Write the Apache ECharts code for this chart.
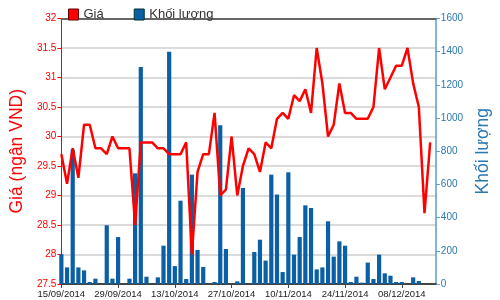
<!DOCTYPE html>
<html>
<head>
<meta charset="utf-8">
<script src="https://cdn.jsdelivr.net/npm/echarts@6/dist/echarts.min.js"></script>
<style>
html,body{margin:0;padding:0;background:#fff;}
#c{width:500px;height:300px;}
</style>
</head>
<body>
<div id="c"></div>
<script>
var dates = [
 '15/09/2014','16/09/2014','17/09/2014','18/09/2014','19/09/2014',
 '22/09/2014','23/09/2014','24/09/2014','25/09/2014','26/09/2014',
 '29/09/2014','30/09/2014','01/10/2014','02/10/2014','03/10/2014',
 '06/10/2014','07/10/2014','08/10/2014','09/10/2014','10/10/2014',
 '13/10/2014','14/10/2014','15/10/2014','16/10/2014','17/10/2014',
 '20/10/2014','21/10/2014','22/10/2014','23/10/2014','24/10/2014',
 '27/10/2014','28/10/2014','29/10/2014','30/10/2014','31/10/2014',
 '03/11/2014','04/11/2014','05/11/2014','06/11/2014','07/11/2014',
 '10/11/2014','11/11/2014','12/11/2014','13/11/2014','14/11/2014',
 '17/11/2014','18/11/2014','19/11/2014','20/11/2014','21/11/2014',
 '24/11/2014','25/11/2014','26/11/2014','27/11/2014','28/11/2014',
 '01/12/2014','02/12/2014','03/12/2014','04/12/2014','05/12/2014',
 '08/12/2014','09/12/2014','10/12/2014','11/12/2014','12/12/2014',
 '15/12/2014','16/12/2014'
];
var price = [
 29.7,29.2,29.8,29.3,30.2, 30.2,29.8,29.8,29.7,30.0,
 29.8,29.8,29.8,28.5,29.9, 29.9,29.9,29.8,29.8,29.7,
 29.7,29.7,29.9,28.0,29.4, 29.7,29.7,30.4,29.0,29.1,
 30.0,29.0,29.5,29.8,29.7, 29.4,29.9,29.8,30.3,30.4,
 30.3,30.7,30.6,30.8,30.4, 31.5,30.9,30.0,30.2,30.9,
 30.4,30.4,30.3,30.3,30.3, 30.5,31.5,30.8,31.0,31.2,
 31.2,31.5,30.9,30.5,28.7, 29.9,null
];
var volume = [
 180,100,810,100,82, 12,32,0,354,32,
 283,0,32,667,1308, 44,0,40,231,1399,
 108,502,30,659,205, 103,0,12,957,211,
 0,16,579,0,193, 267,141,659,539,72,
 673,177,283,474,458, 88,100,378,165,257,
 231,12,44,8,129, 30,177,64,50,12,
 12,0,40,18,0, 0,0
];
var priceTicks = {min:27.5, max:32, step:0.5};
var volTicks = {min:0, max:1600, step:200};

var sans = '"Liberation Sans",Arial,sans-serif';
var chart = echarts.init(document.getElementById('c'));
chart.setOption({
  animation:false,
  backgroundColor:'#fff',
  legend:{
    left:63, top:3, itemWidth:10, itemHeight:11, itemGap:30,
    textStyle:{fontFamily:sans, fontSize:13, color:'#333'},
    data:[
      {name:'Giá', icon:'rect', itemStyle:{color:'#ff0000', borderColor:'#600', borderWidth:1}},
      {name:'Khối lượng', icon:'rect', itemStyle:{color:'#0b5fa5', borderColor:'#033', borderWidth:1}}
    ]
  },
  grid:{left:58, right:61, top:18.5, bottom:16, containLabel:false},
  xAxis:[{
    type:'category', data:dates, boundaryGap:false,
    axisLine:{lineStyle:{color:'#444', width:2}},
    axisTick:{interval:9, length:4, lineStyle:{color:'#444'}},
    axisLabel:{interval:9, margin:5, fontFamily:sans, fontSize:9.5, color:'#222'},
    splitLine:{show:false}
  },{
    type:'category', data:dates, boundaryGap:false, position:'top',
    axisLine:{lineStyle:{color:'#666', width:2}},
    axisTick:{show:false}, axisLabel:{show:false}
  }],
  yAxis:[{
    type:'value', position:'left', min:priceTicks.min, max:priceTicks.max, interval:priceTicks.step,
    name:'Giá (ngân VND)', nameLocation:'middle', nameRotate:90, nameGap:27,
    nameTextStyle:{color:'#ff0000', fontSize:17.5, fontFamily:sans},
    axisLine:{show:true, lineStyle:{color:'#ff0000', width:1}},
    axisTick:{show:true, length:4, lineStyle:{color:'#ff0000'}},
    axisLabel:{color:'#ff0000', fontSize:10, fontFamily:sans, margin:5},
    splitLine:{show:true, lineStyle:{color:'#cfcfcf', width:1.5}}
  },{
    type:'value', position:'right', min:volTicks.min, max:volTicks.max, interval:volTicks.step,
    name:'Khối lượng', nameLocation:'middle', nameRotate:90, nameGap:31,
    nameTextStyle:{color:'#2a78b0', fontSize:17.5, fontFamily:sans},
    axisLine:{show:true, lineStyle:{color:'#5a9cc8', width:1.5}},
    axisTick:{show:true, length:4, lineStyle:{color:'#5a9cc8'}},
    axisLabel:{color:'#2a78b0', fontSize:10, fontFamily:sans, margin:5,
      formatter:function(v){return String(v);}},
    splitLine:{show:false}
  }],
  series:[{
    name:'Khối lượng', type:'bar', xAxisIndex:0, yAxisIndex:1, data:volume,
    barWidth:4.2, clip:false, itemStyle:{color:'#0b5fa5'}, z:2
  },{
    name:'Giá', type:'line', xAxisIndex:0, yAxisIndex:0, data:price,
    symbol:'none', lineStyle:{color:'#ff0000', width:2.5}, itemStyle:{color:'#ff0000'}, z:3
  }]
});
</script>
</body>
</html>
